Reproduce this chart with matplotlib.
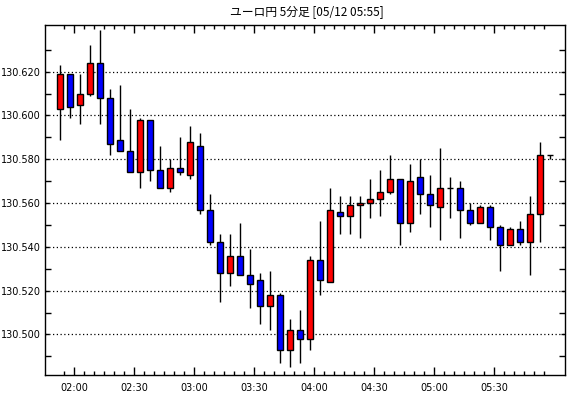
import matplotlib
matplotlib.use("Agg")
import matplotlib.pyplot as plt
import numpy as np
import pandas as pd

# 5-minute EUR/JPY candles (each candle ends at its time)
opens = [130.603, 130.619, 130.605, 130.610, 130.624, 130.608, 130.589, 130.584, 130.574, 130.598,
         130.575, 130.567, 130.576, 130.573, 130.586, 130.557, 130.542, 130.528, 130.536, 130.527,
         130.525, 130.513, 130.518, 130.493, 130.502, 130.498, 130.534, 130.524, 130.556, 130.554,
         130.559, 130.560, 130.562, 130.565, 130.571, 130.551, 130.572, 130.564, 130.558, 130.567,
         130.567, 130.557, 130.551, 130.558, 130.549, 130.541, 130.548, 130.542, 130.555, 130.582]
highs = [130.623, 130.619, 130.619, 130.632, 130.639, 130.612, 130.614, 130.603, 130.599, 130.598,
         130.586, 130.580, 130.590, 130.595, 130.592, 130.564, 130.546, 130.546, 130.551, 130.539,
         130.528, 130.529, 130.519, 130.507, 130.511, 130.536, 130.552, 130.567, 130.563, 130.563,
         130.563, 130.571, 130.575, 130.582, 130.571, 130.578, 130.580, 130.573, 130.585, 130.572,
         130.570, 130.560, 130.559, 130.559, 130.550, 130.549, 130.552, 130.563, 130.588, 130.582]
lows = [130.589, 130.599, 130.596, 130.609, 130.596, 130.582, 130.584, 130.574, 130.567, 130.570,
        130.567, 130.565, 130.573, 130.571, 130.555, 130.541, 130.515, 130.522, 130.527, 130.512,
        130.505, 130.502, 130.487, 130.485, 130.487, 130.493, 130.518, 130.524, 130.546, 130.546,
        130.544, 130.553, 130.554, 130.564, 130.541, 130.547, 130.555, 130.549, 130.543, 130.553,
        130.544, 130.550, 130.551, 130.543, 130.529, 130.541, 130.541, 130.527, 130.542, 130.580]
closes = [130.619, 130.604, 130.610, 130.624, 130.608, 130.587, 130.584, 130.574, 130.598, 130.575,
          130.567, 130.576, 130.574, 130.588, 130.557, 130.542, 130.528, 130.536, 130.527, 130.523,
          130.513, 130.518, 130.493, 130.502, 130.498, 130.534, 130.525, 130.557, 130.554, 130.559,
          130.560, 130.562, 130.565, 130.571, 130.551, 130.570, 130.564, 130.559, 130.567, 130.567,
          130.557, 130.551, 130.558, 130.549, 130.541, 130.548, 130.542, 130.555, 130.582, 130.582]

first_time = "01:55"
title = "ユーロ円 5分足 [05/12 05:55]"
y_major = [130.500, 130.520, 130.540, 130.560, 130.580, 130.600, 130.620]

o = np.array(opens)
h = np.array(highs)
l = np.array(lows)
c = np.array(closes)
x = np.arange(len(o))
times = pd.date_range("2020-05-12 " + first_time, periods=len(o), freq="5min")

plt.rcParams["font.family"] = ["Noto Sans CJK JP", "DejaVu Sans"]

fig = plt.figure(figsize=(5.7, 3.98), dpi=100)
ax = fig.add_axes([45 / 570, 1 - 375 / 398, 520 / 570, 350 / 398])

# ヒゲ
ax.vlines(x, l, h, color="black", linewidth=1.0, zorder=2)

# 実体
up = c > o
down = c < o
doji = c == o
ax.bar(x[up], (c - o)[up], bottom=o[up], width=0.6, color="#ff0000",
       edgecolor="black", linewidth=1.0, zorder=3)
ax.bar(x[down], (o - c)[down], bottom=c[down], width=0.6, color="#0000ff",
       edgecolor="black", linewidth=1.0, zorder=3)
ax.hlines(c[doji], x[doji] - 0.3, x[doji] + 0.3, color="black", linewidth=1.0, zorder=3)

ax.set_xlim(-1.5, 50.5)
ax.set_ylim(130.4815, 130.6413)

# 目盛り: 各足の区切り、30分ごとにラベル (最後の足は進行中なので除く)
tick_pos = x + 0.4
major = [i for i, t in enumerate(times[:-1]) if t.minute % 30 == 0]
ax.set_xticks(tick_pos[major])
ax.set_xticklabels([times[i].strftime("%H:%M") for i in major])
ax.set_xticks(tick_pos[:-1], minor=True)

ax.set_yticks(y_major)
ax.set_yticklabels(["%.3f" % v for v in y_major])
ax.set_yticks(np.array(y_major[:1] + y_major) + np.r_[-0.01, [0.01] * len(y_major)], minor=True)

ax.tick_params(axis="both", which="both", direction="in", top=True, right=True,
               labelsize=7, colors="black", width=1.0)
ax.tick_params(axis="x", which="major", length=6, pad=6)
ax.tick_params(axis="x", which="minor", length=3)
ax.tick_params(axis="y", which="major", length=3, pad=3)
ax.tick_params(axis="y", which="minor", length=4)
for lab in ax.get_xticklabels() + ax.get_yticklabels():
    lab.set_family("DejaVu Sans")

ax.yaxis.grid(True, linestyle=(0, (1, 2)), color="black", linewidth=0.9)
ax.set_axisbelow(True)
for s in ax.spines.values():
    s.set_linewidth(1.0)

fig.text(307 / 570, 1 - 12 / 398, title, ha="center", va="center", fontsize=8.5)

fig.savefig("out.png", dpi=100)
